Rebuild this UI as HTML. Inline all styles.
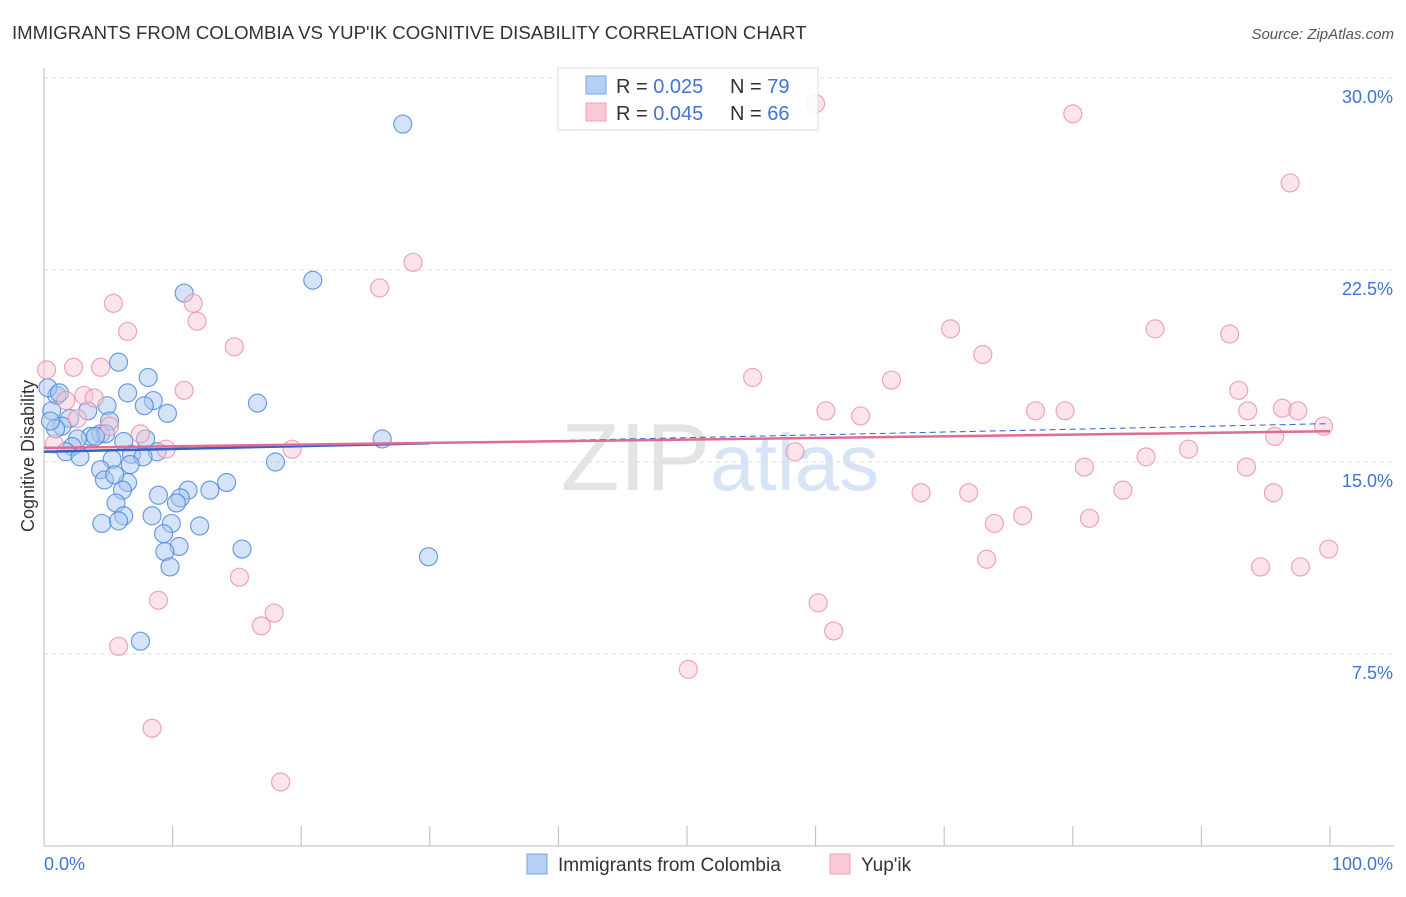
<!DOCTYPE html>
<html><head><meta charset="utf-8"><style>
body{margin:0;background:#fff;font-family:"Liberation Sans",sans-serif}
svg text{font-family:"Liberation Sans",sans-serif}
</style></head><body>
<svg width="1406" height="892">
<text x="12" y="39" font-size="18.6" fill="#333">IMMIGRANTS FROM COLOMBIA VS YUP'IK COGNITIVE DISABILITY CORRELATION CHART</text>
<text x="1394" y="39" font-size="15" fill="#555" font-style="italic" text-anchor="end">Source: ZipAtlas.com</text>
<text x="720" y="490" font-size="96" fill="#e4e4e4" text-anchor="middle" font-family="Liberation Serif">ZIP<tspan fill="#d6e4f5" font-family="Liberation Sans" font-size="80">atlas</tspan></text>
<g id="grid"></g>
<g id="axes"></g>
<text transform="translate(34,456) rotate(-90)" font-size="18" fill="#333" text-anchor="middle">Cognitive Disability</text>
<g id="marks"></g>
<g>
<rect x="558" y="68" width="260" height="62" fill="#fff" fill-opacity="0.85" stroke="#ddd"/>
<rect x="586" y="76" width="20" height="18" fill="#b5d0f5" stroke="#7aa6e6"/>
<rect x="586" y="103" width="20" height="18" fill="#fbc8d6" stroke="#eea0b8"/>
<text x="616" y="93" font-size="20" fill="#333">R = <tspan fill="#3f74d4">0.025</tspan></text>
<text x="730" y="93" font-size="20" fill="#333">N = <tspan fill="#3f74d4">79</tspan></text>
<text x="616" y="120" font-size="20" fill="#333">R = <tspan fill="#3f74d4">0.045</tspan></text>
<text x="730" y="120" font-size="20" fill="#333">N = <tspan fill="#3f74d4">66</tspan></text>
</g>
<g>
<rect x="527" y="854" width="20" height="20" fill="#b5d0f5" stroke="#7aa6e6"/>
<text x="558" y="871" font-size="19" fill="#333">Immigrants from Colombia</text>
<rect x="830" y="854" width="20" height="20" fill="#fbc8d6" stroke="#eea0b8"/>
<text x="861" y="871" font-size="19" fill="#333">Yup'ik</text>
</g>
</svg>
<script>
const yTicks=[7.5,15,22.5,30];
const yTickLabels=["7.5%","15.0%","22.5%","30.0%"];
const xTicks=[0,10,20,30,40,50,60,70,80,90,100];
const blueX=[27.9,20.9,10.9,5.8,8.1,6.5,8.5,7.8,16.6,4.9,9.6,3.4,1.0,0.3,1.2,0.6,2.0,5.1,1.4,4.4,4.8,3.6,4.0,2.6,7.9,6.2,26.3,2.2,1.7,6.8,8.8,7.7,2.8,5.3,18.0,6.7,4.4,4.7,6.5,5.5,14.2,6.1,8.9,11.2,12.9,10.6,10.3,5.6,8.4,6.2,4.5,5.8,9.9,12.1,9.3,10.5,9.4,15.4,9.8,29.9,7.5,0.9,0.5];
const blueY=[28.2,22.1,21.6,18.9,18.3,17.7,17.4,17.2,17.3,17.2,16.9,17.0,17.6,17.9,17.7,17.0,16.7,16.6,16.4,16.1,16.1,16.0,16.0,15.9,15.9,15.8,15.9,15.6,15.4,15.3,15.4,15.2,15.2,15.1,15.0,14.9,14.7,14.3,14.2,14.5,14.2,13.9,13.7,13.9,13.9,13.6,13.4,13.4,12.9,12.9,12.6,12.7,12.6,12.5,12.2,11.7,11.5,11.6,10.9,11.3,8.0,16.3,16.6];
const pinkX=[60.0,80.0,96.9,28.7,26.1,5.4,11.6,11.9,6.5,14.8,70.5,86.4,92.2,73.0,0.2,2.3,4.4,55.1,65.9,10.9,92.9,3.1,3.9,1.7,60.8,63.5,77.1,79.4,93.6,96.3,97.5,99.5,95.7,5.1,7.5,2.6,0.8,19.3,9.5,58.4,85.7,89.0,80.9,93.5,68.2,71.9,83.9,95.6,73.9,76.1,81.3,73.3,94.6,97.7,99.9,15.2,8.9,60.2,17.9,16.9,61.4,5.8,50.1,8.4,18.4];
const pinkY=[29.0,28.6,25.9,22.8,21.8,21.2,21.2,20.5,20.1,19.5,20.2,20.2,20.0,19.2,18.6,18.7,18.7,18.3,18.2,17.8,17.8,17.6,17.5,17.4,17.0,16.8,17.0,17.0,17.0,17.1,17.0,16.4,16.0,16.4,16.1,16.7,15.7,15.5,15.5,15.4,15.2,15.5,14.8,14.8,13.8,13.8,13.9,13.8,12.6,12.9,12.8,11.2,10.9,10.9,11.6,10.5,9.6,9.5,9.1,8.6,8.4,7.8,6.9,4.6,2.5];
const blueTrend=[15.4,16.5];
const pinkTrend=[15.55,16.2];
const NS="http://www.w3.org/2000/svg";
const X=v=>44+v*12.86, Y=v=>846-v*25.6;
function mk(tag,attrs,parent){const e=document.createElementNS(NS,tag);for(const k in attrs)e.setAttribute(k,attrs[k]);document.getElementById(parent).appendChild(e);return e;}
yTicks.forEach((t,i)=>{
 const l=mk('line',{x1:44,x2:1394,y1:Y(t),y2:Y(t),stroke:'#ddd','stroke-dasharray':'4,4'},'grid');
 
 
 const tx=mk('text',{x:1393,y:Y(t)+25,'font-size':18,fill:'#3f74d4','text-anchor':'end'},'grid');
 tx.textContent=yTickLabels[i];
 
 
});
const ya=mk('line',{x1:44,x2:44,y1:68,y2:846,stroke:'#bbb'},'axes');


const xa=mk('line',{x1:44,x2:1394,y1:846,y2:846,stroke:'#bbb'},'axes');


xTicks.forEach(t=>{const l=mk('line',{x1:X(t),x2:X(t),y1:826,y2:846,stroke:'#bbb'},'axes');
 
 });
const t0=mk('text',{x:44,y:870,'font-size':18,fill:'#3f74d4'},'axes');t0.textContent='0.0%';


const t1=mk('text',{x:1393,y:870,'font-size':18,fill:'#3f74d4','text-anchor':'end'},'axes');t1.textContent='100.0%';


blueX.forEach((x,i)=>{const c=mk('circle',{cx:X(x),cy:Y(blueY[i]),r:9,fill:'#a9c8f0','fill-opacity':0.5,stroke:'#4a86dc','stroke-opacity':0.8,'stroke-width':1.2},'marks');
 
 });
pinkX.forEach((x,i)=>{const c=mk('circle',{cx:X(x),cy:Y(pinkY[i]),r:9,fill:'#f9c3d3','fill-opacity':0.45,stroke:'#ec8fae','stroke-opacity':0.8,'stroke-width':1.2},'marks');
 
 });
const bx=30;
const by=blueTrend[0]+(blueTrend[1]-blueTrend[0])*bx/100;
const b1=mk('line',{x1:X(0),y1:Y(blueTrend[0]),x2:X(bx),y2:Y(by),stroke:'#2f62c9','stroke-width':2.5},'marks');


const b2=mk('line',{x1:X(bx),y1:Y(by),x2:X(100),y2:Y(blueTrend[1]),stroke:'#2f62c9','stroke-width':1,'stroke-dasharray':'6,4'},'marks');


const p1=mk('line',{x1:X(0),y1:Y(pinkTrend[0]),x2:X(100),y2:Y(pinkTrend[1]),stroke:'#e06b93','stroke-width':2.5},'marks');


</script>
</body></html>
